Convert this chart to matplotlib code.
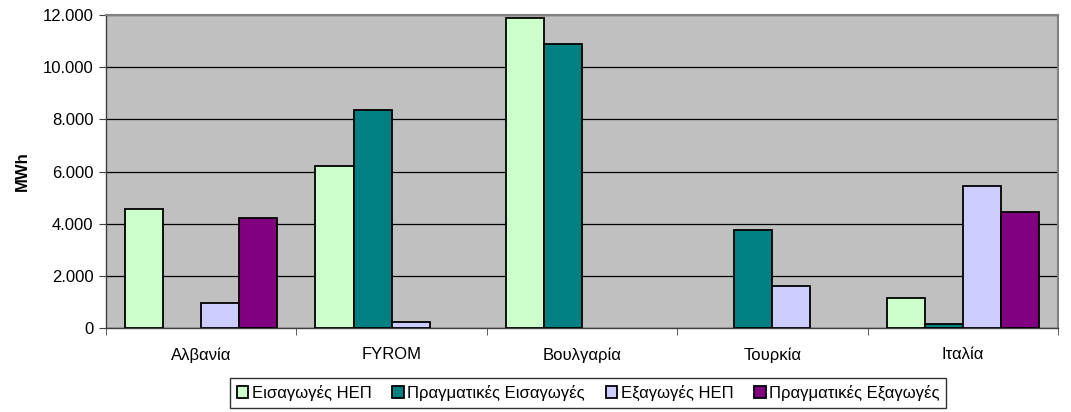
import matplotlib
matplotlib.use("Agg")
import matplotlib.pyplot as plt
from matplotlib.ticker import FuncFormatter, FixedLocator
import numpy as np

categories = ["Αλβανία", "FYROM", "Βουλγαρία", "Τουρκία", "Ιταλία"]
series_names = ["Εισαγωγές ΗΕΠ", "Πραγματικές Εισαγωγές", "Εξαγωγές ΗΕΠ", "Πραγματικές Εξαγωγές"]
eisagoges_hep = [4575, 6224, 11887, 0, 1137]
pragm_eisagoges = [0, 8372, 10902, 3770, 153]
exagoges_hep = [947, 217, 0, 1623, 5445]
pragm_exagoges = [4206, 0, 0, 0, 4448]
colors = ["#CCFFCC", "#008080", "#CCCCFF", "#800080"]

plt.rcParams['font.family'] = ['Liberation Sans', 'DejaVu Sans']
FS = 12

fig = plt.figure(figsize=(10.71, 4.12), dpi=100)
ax = fig.add_axes([106/1071, 1 - 328/412, (1058-106)/1071, (328-15)/412])
ax.set_facecolor("#C0C0C0")

series = [eisagoges_hep, pragm_eisagoges, exagoges_hep, pragm_exagoges]
x = np.arange(len(categories))
w = 0.2
for i, (vals, name, c) in enumerate(zip(series, series_names, colors)):
    v = np.array(vals, dtype=float)
    v = np.where(v > 0, v, np.nan)
    ax.bar(x + (i - 1.5) * w, v, width=w, color=c, edgecolor="black",
           linewidth=1.3, label=name, zorder=3)

ax.set_xlim(-0.5, len(categories) - 0.5)
ax.set_ylim(0, 12000)
ax.set_yticks(np.arange(0, 12001, 2000))
ax.yaxis.set_major_formatter(FuncFormatter(lambda v, p: f"{int(v):,}".replace(",", ".")))
ax.grid(axis="y", color="black", linewidth=0.9, zorder=1)
ax.set_axisbelow(True)

ax.set_xticks(x)
ax.set_xticklabels(categories)
ax.tick_params(axis="x", length=0, pad=14, labelsize=FS)
ax.xaxis.set_minor_locator(FixedLocator(np.arange(-0.5, len(categories), 1.0)))
ax.tick_params(axis="x", which="minor", length=5, direction="out", color="#404040")
ax.tick_params(axis="y", length=5, direction="out", labelsize=FS, color="#404040", pad=4)

for s in ["top", "right"]:
    ax.spines[s].set_color("#808080")
    ax.spines[s].set_linewidth(1.5)
for s in ["left", "bottom"]:
    ax.spines[s].set_color("#404040")
    ax.spines[s].set_linewidth(1.0)

ax.set_ylabel("MWh", fontweight="bold", fontsize=FS, labelpad=9)

leg = fig.legend(loc="center", bbox_to_anchor=(588/1071, 1 - 393/412), ncol=4,
                 frameon=True, fancybox=False, edgecolor="black", fontsize=FS,
                 handlelength=0.7, handleheight=0.7, handletextpad=0.2,
                 columnspacing=1.25, borderpad=0.4, borderaxespad=0)
leg.get_frame().set_linewidth(1.0)

fig.savefig("out.png", dpi=100)
